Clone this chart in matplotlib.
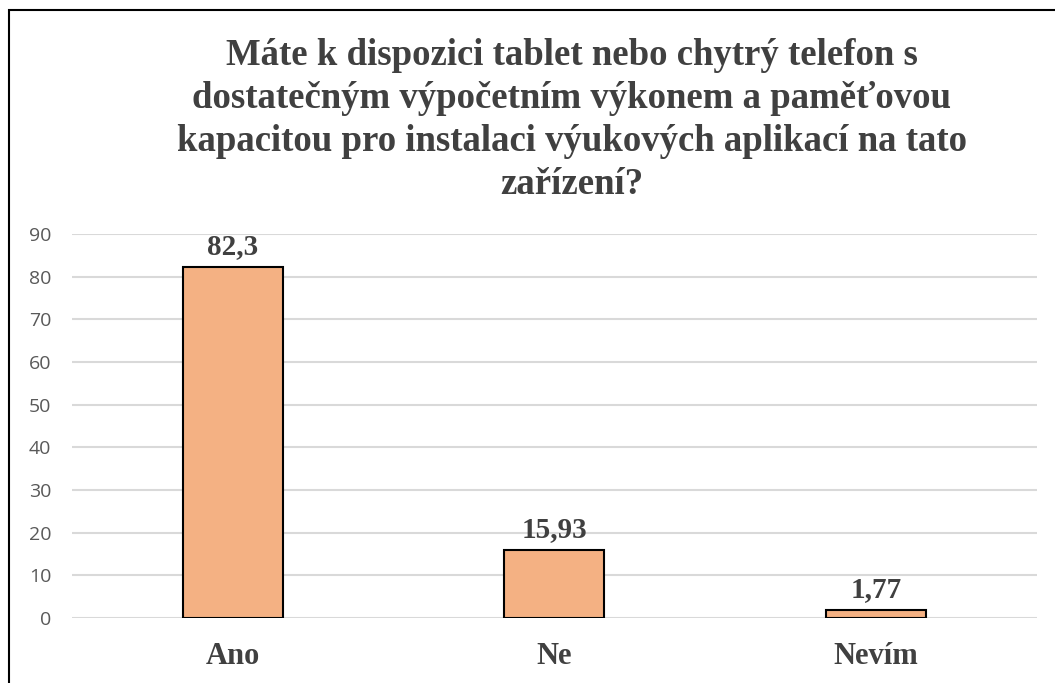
import matplotlib
matplotlib.use("Agg")
import matplotlib.pyplot as plt
from matplotlib.patches import Rectangle

categories = ["Ano", "Ne", "Nevím"]
values = [82.3, 15.93, 1.77]
value_labels = ["82,3", "15,93", "1,77"]
yticks = [0, 10, 20, 30, 40, 50, 60, 70, 80, 90]

title = ("Máte k dispozici tablet nebo chytrý telefon s\n"
         "dostatečným výpočetním výkonem a paměťovou\n"
         "kapacitou pro instalaci výukových aplikací na tato\n"
         "zařízení?")

serif = "Liberation Serif"
text_col = "#404040"

fig = plt.figure(figsize=(10.55, 6.83), dpi=100)
ax = fig.add_axes([0.0682, 0.0952, 0.9147, 0.5622])

x = range(len(categories))
ax.bar(x, values, width=0.311, color="#F4B183", edgecolor="black", linewidth=1.5, zorder=3)

for xi, v, lab in zip(x, values, value_labels):
    ax.annotate(lab, (xi, v), xytext=(0, 5), textcoords="offset points",
                ha="center", va="bottom", fontsize=21, fontweight="bold",
                family=serif, color=text_col, zorder=4)

ax.set_xlim(-0.5, len(categories) - 0.5)
ax.set_ylim(0, 90)
ax.set_yticks(yticks)
ax.set_xticks(list(x))
ax.set_xticklabels(categories, fontsize=22, fontweight="bold", family=serif, color=text_col)
ax.tick_params(axis="x", length=0, pad=17)
ax.tick_params(axis="y", length=0, pad=15, labelsize=14, labelcolor="#595959")
for lab in ax.get_yticklabels():
    lab.set_family("Open Sans")

ax.grid(axis="y", color="#D9D9D9", linewidth=1.5, zorder=0)
for s in ax.spines.values():
    s.set_visible(False)

fig.text(0.542, 0.945, title, ha="center", va="top", fontsize=26.5,
         fontweight="bold", family=serif, color=text_col, linespacing=1.3)

# outer chart frame
fig.add_artist(Rectangle((9 / 1055, -0.05), 1.1, 1 - 10 / 683 + 0.05,
                         transform=fig.transFigure, fill=False,
                         edgecolor="black", linewidth=1.5))

fig.savefig("out.png", dpi=100)
